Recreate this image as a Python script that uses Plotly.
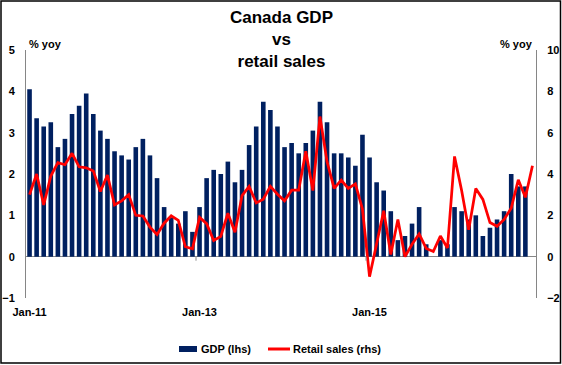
import plotly.graph_objects as go
import pandas as pd

# ---- data ----
months = pd.date_range("2011-01-01", periods=72, freq="MS").strftime("%b-%y").tolist()

gdp = [4.05, 3.35, 3.15, 3.25, 2.65, 2.85, 3.45, 3.65, 3.95, 3.45,
       3.05, 2.85, 2.55, 2.45, 2.35, 2.65, 2.85, 2.45, 1.9, 1.2,
       0.95, 0.8, 1.1, 0.6, 1.2, 1.9, 2.1, 2.0, 2.3, 1.8,
       2.1, 2.7, 3.15, 3.75, 3.55, 3.15, 2.65, 2.75, 2.5, 2.75,
       3.05, 3.75, 3.25, 2.5, 2.5, 2.4, 2.2, 2.95, 2.4, 1.8,
       1.6, 1.1, 0.4, 0.5, 0.8, 1.2, 0.3, 0.0, 0.4, 0.3,
       1.2, 1.1, 0.9, 1.0, 0.5, 0.7, 0.9, 1.1, 2.0, 1.7,
       1.7]

retail = [3.0, 4.0, 2.5, 3.9, 4.55, 4.45, 5.0, 4.35, 4.3, 4.15,
          3.15, 3.95, 2.5, 2.7, 3.0, 2.0, 1.97, 1.43, 1.07, 1.62,
          1.98, 1.76, 0.48, 0.38, 1.9, 1.6, 0.78, 0.98, 2.1, 1.18,
          2.95, 3.4, 2.6, 2.78, 3.4, 3.02, 2.7, 3.22, 3.22, 5.1,
          3.2, 6.78, 4.6, 3.3, 3.7, 3.3, 3.52, 2.3, -0.97, 0.6,
          2.22, 0.1, 1.8, 0.0, 0.6, 1.1, 0.4, 0.25, 1.0, 0.42,
          4.85, 3.2, 1.3, 3.3, 2.77, 1.65, 1.47, 1.8, 2.35, 3.72,
          2.87, 4.4]

tick_labels = ["Jan-11", "Jan-13", "Jan-15"]
boundary_ticks = ["Jan-13", "Jan-15"]
series_names = ["GDP (lhs)", "Retail sales (rhs)"]

# ---- layout constants ----
W, H = 562, 365
ML, MR, MT, MB = 26, 26, 50, 67
PW, PH = W - ML - MR, H - MT - MB

def px_x(p):
    return (p - ML) / PW

def px_y(p):
    return (H - MB - p) / PH

FONT = "Arial, Liberation Sans, sans-serif"
NAVY = "#002060"
RED = "#FF0000"
GRAY = "#868686"

fig = go.Figure()
fig.add_trace(go.Bar(x=months[:len(gdp)], y=gdp, name=series_names[0],
                     marker=dict(color=NAVY, line=dict(width=0)), yaxis="y",
                     showlegend=False))
fig.add_trace(go.Scatter(x=months[:len(retail)], y=retail, name=series_names[1],
                         mode="lines", line=dict(color=RED, width=2.75),
                         yaxis="y2", showlegend=False))

shapes = []
for lab in boundary_ticks:
    i = months.index(lab)
    shapes.append(dict(type="line", xref="x", yref="y", x0=i - 0.5, x1=i - 0.5,
                       ysizemode="pixel", yanchor=0, y0=0, y1=-4,
                       line=dict(color=GRAY, width=1)))
# outer frame
shapes.append(dict(type="rect", xref="paper", yref="paper",
                   x0=px_x(1), x1=px_x(560.5), y0=px_y(363), y1=px_y(1),
                   line=dict(color="black", width=1.5), layer="above"))
# legend swatches
shapes.append(dict(type="rect", xref="paper", yref="paper",
                   x0=px_x(179), x1=px_x(197), y0=px_y(352), y1=px_y(346),
                   fillcolor=NAVY, line=dict(width=0)))
shapes.append(dict(type="line", xref="paper", yref="paper",
                   x0=px_x(268), x1=px_x(290), y0=px_y(349), y1=px_y(349),
                   line=dict(color=RED, width=3)))

annotations = [
    dict(text="<b>Canada GDP<br>vs<br>retail sales</b>", xref="paper", yref="paper",
         x=0.5, y=px_y(6), xanchor="center", yanchor="top", showarrow=False,
         font=dict(family=FONT, size=17, color="black")),
    dict(text="<b>% yoy</b>", xref="paper", yref="paper", x=px_x(27), y=px_y(52),
         xanchor="left", yanchor="bottom", showarrow=False,
         font=dict(family=FONT, size=11, color="black")),
    dict(text="<b>% yoy</b>", xref="paper", yref="paper", x=px_x(535), y=px_y(52),
         xanchor="right", yanchor="bottom", showarrow=False,
         font=dict(family=FONT, size=11, color="black")),
    dict(text="<b>" + series_names[0] + "</b>", xref="paper", yref="paper",
         x=px_x(199), y=px_y(349), xanchor="left", yanchor="middle", showarrow=False,
         font=dict(family=FONT, size=11, color="black")),
    dict(text="<b>" + series_names[1] + "</b>", xref="paper", yref="paper",
         x=px_x(291), y=px_y(349), xanchor="left", yanchor="middle", showarrow=False,
         font=dict(family=FONT, size=11, color="black")),
]

tickfont = dict(family=FONT, size=11, color="black", weight="bold")

fig.update_layout(
    width=W, height=H, margin=dict(l=ML, r=MR, t=MT, b=MB),
    paper_bgcolor="white", plot_bgcolor="white",
    font=dict(family=FONT, size=11, color="black"),
    bargap=0.35, showlegend=False,
    xaxis=dict(type="category", range=[-0.5, len(months) - 0.5],
               tickmode="array", tickvals=tick_labels, ticktext=tick_labels,
               ticks="", showline=False, showgrid=False, zeroline=False,
               tickfont=tickfont, ticklabelstandoff=6, automargin=False),
    yaxis=dict(range=[-1, 5], dtick=1, tick0=0, showgrid=False, showline=True,
               linecolor=GRAY, linewidth=1, zeroline=True, zerolinecolor=GRAY,
               zerolinewidth=1, ticks="", ticklabelstandoff=8,
               tickfont=tickfont, automargin=False),
    yaxis2=dict(range=[-2, 10], dtick=2, tick0=0, overlaying="y", side="right",
                showgrid=False, showline=True, linecolor=GRAY, linewidth=1,
                zeroline=False, ticks="", ticklabelstandoff=8,
                tickfont=tickfont, automargin=False),
    shapes=shapes, annotations=annotations,
)

fig.write_html("out.html",
               config={"displayModeBar": False},
               post_script="document.body.style.margin='0';"
                           "document.body.style.overflow='hidden';")
